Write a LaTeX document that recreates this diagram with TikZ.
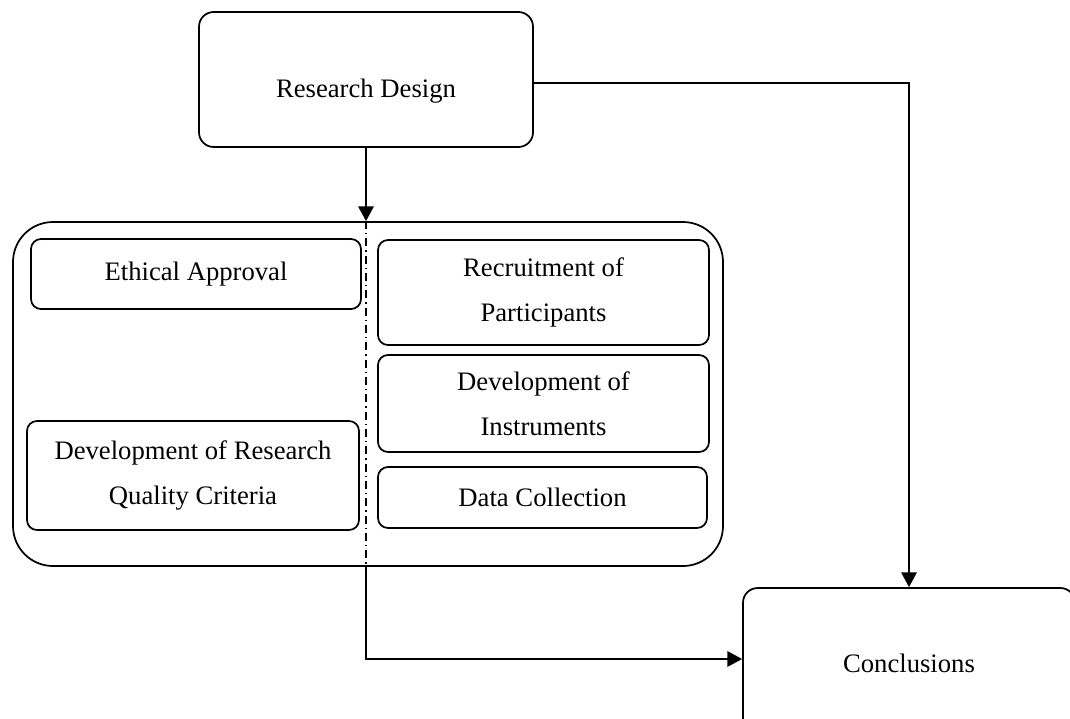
\documentclass[tikz,border=0pt]{standalone}
\usepackage{fontspec}
\setmainfont{Liberation Serif}
\usetikzlibrary{arrows.meta}

\begin{document}
\begin{tikzpicture}[x=0.75pt,y=-0.75pt,
  every node/.style={font=\fontsize{20}{33.75}\selectfont, align=center, inner sep=0pt},
  card/.style 2 args={draw, line width=1.3pt, rounded corners=7.5pt,
    minimum width=#1*0.75pt, minimum height=#2*0.75pt},
  frame/.style={draw, line width=1.3pt, rounded corners=30pt,
    minimum width=710*0.75pt, minimum height=344*0.75pt},
  link/.style={line width=1.3pt, -{Triangle[length=11pt,width=11.5pt]}},
  divider/.style={line width=1pt, dash pattern=on 6pt off 3pt on 1pt off 3pt}
]
\useasboundingbox (0,0) rectangle (1070,718);

% top box
\node[card={334}{135}, rounded corners=11pt, text height=26.25pt, text depth=0pt]
  (rd) at (366,79.5) {Research Design};

% grouping frame with its five activities
\node[frame] (grp) at (368,394) {};
\node[card={330}{70}, text height=14pt, text depth=4pt] (eth) at (196,274) {Ethical Approval};
\node[card={332}{109}] (qual) at (193,475.5) {Development of Research\\Quality Criteria};
\node[card={331}{105}] (rec)  at (543.5,292.5) {Recruitment of\\Participants};
\node[card={331}{97}]  (ins)  at (543.5,403.5) {Development of\\Instruments};
\node[card={329}{61}]  (dat)  at (542.5,497.5) {Data Collection};

% final box, running past the lower edge
\node[card={332}{150}, rounded corners=11pt] (con) at (909,663) {Conclusions};

% divider between the two columns
\coordinate (dtop) at (rd.south |- grp.north);
\coordinate (dbot) at (rd.south |- grp.south);
\draw[divider] (dtop) -- (dbot);

% connectors
\draw[link] (rd.south) -- (dtop);
\draw[link] ([yshift=-2.6pt]rd.east) -| (con.north);
\draw[link] (dbot) |- ([yshift=3pt]con.west);
\end{tikzpicture}
\end{document}
